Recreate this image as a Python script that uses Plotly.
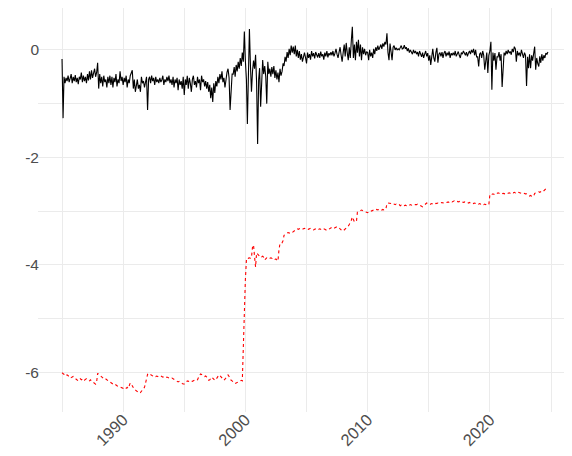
import pandas as pd
import plotly.graph_objects as go

# ---- Data (monthly, Jan 1985 - Oct 2024) ----
black_values = [
    # 1985
    -0.17, -1.27, -0.50, -0.62, -0.52, -0.58, -0.48, -0.60, -0.53, -0.45, -0.62, -0.50,
    # 1986
    -0.58, -0.47, -0.60, -0.52, -0.64, -0.50, -0.55, -0.42, -0.60, -0.48, -0.58, -0.50,
    # 1987
    -0.62, -0.45, -0.57, -0.40, -0.55, -0.38, -0.52, -0.45, -0.35, -0.50, -0.42, -0.24,
    # 1988
    -0.72, -0.45, -0.62, -0.50, -0.68, -0.48, -0.60, -0.55, -0.70, -0.50, -0.62, -0.48,
    # 1989
    -0.65, -0.50, -0.70, -0.52, -0.60, -0.45, -0.68, -0.55, -0.62, -0.40, -0.58, -0.50,
    # 1990
    -0.65, -0.52, -0.60, -0.48, -0.70, -0.55, -0.62, -0.48, -0.40, -0.38, -0.72, -0.55,
    # 1991
    -0.78, -0.60, -0.55, -0.72, -0.65, -0.78, -0.50, -0.62, -0.58, -0.70, -0.55, -0.50,
    # 1992
    -1.12, -0.55, -0.50, -0.62, -0.48, -0.58, -0.52, -0.65, -0.50, -0.60, -0.55, -0.62,
    # 1993
    -0.52, -0.60, -0.56, -0.48, -0.65, -0.55, -0.60, -0.50, -0.58, -0.48, -0.62, -0.55,
    # 1994
    -0.65, -0.50, -0.70, -0.55, -0.62, -0.52, -0.75, -0.55, -0.65, -0.58, -0.72, -0.50,
    # 1995
    -0.84, -0.55, -0.65, -0.48, -0.72, -0.52, -0.62, -0.78, -0.55, -0.48, -0.65, -0.58,
    # 1996
    -0.70, -0.50, -0.62, -0.55, -0.75, -0.48, -0.60, -0.55, -0.68, -0.58, -0.72, -0.60,
    # 1997
    -0.78, -0.65, -0.90, -0.70, -0.97, -0.62, -0.80, -0.58, -0.68, -0.50, -0.62, -0.45,
    # 1998
    -0.55, -0.40, -0.60, -0.52, -0.70, -0.48, -0.42, -0.35, -0.52, -1.12, -0.60, -0.45,
    # 1999
    -0.45, -0.32, -0.50, -0.28, -0.40, -0.22, -0.35, -0.15, -0.30, -0.05, -0.22, 0.34,
    # 2000
    -0.20, -0.55, -1.38, -0.30, 0.39, -0.30, -0.78, -0.40, -0.20, -0.35, -0.09, -0.60,
    # 2001
    -1.75, -0.55, -0.34, -1.06, -0.40, -0.19, -0.45, -0.30, -0.50, -1.00, -0.22, -0.45,
    # 2002
    -0.35, -0.50, -0.32, -0.45, -0.30, -0.52, -0.38, -0.55, -0.42, -0.60, -0.35, -0.48,
    # 2003
    -0.40, -0.25, -0.30, -0.13, -0.22, -0.04, -0.15, 0.02, -0.10, 0.08, -0.05, 0.06,
    # 2004
    -0.08, 0.08, -0.12, 0.00, -0.15, -0.02, -0.18, -0.08, -0.22, -0.10, -0.05, -0.14,
    # 2005
    -0.25, -0.05, -0.15, -0.08, -0.18, -0.02, -0.12, -0.06, -0.16, -0.04, -0.10, -0.14,
    # 2006
    -0.06, -0.15, -0.03, -0.12, -0.08, -0.18, -0.05, -0.12, -0.02, -0.14, -0.06, -0.10,
    # 2007
    -0.04, -0.10, -0.02, -0.12, -0.06, 0.02, -0.08, -0.15, -0.04, 0.05, -0.10, -0.22,
    # 2008
    -0.05, 0.10, -0.12, 0.13, -0.05, -0.19, 0.05, -0.15, 0.18, 0.43, -0.15, 0.10,
    # 2009
    -0.19, 0.15, -0.05, 0.19, -0.12, 0.10, -0.19, 0.05, -0.08, 0.02, -0.10, -0.03,
    # 2010
    -0.05, -0.19, 0.00, -0.12, -0.05, -0.15, 0.02, -0.08, 0.05, -0.02, 0.08, 0.00,
    # 2011
    0.05, 0.10, 0.02, 0.12, 0.06, 0.15, 0.10, 0.31, -0.05, -0.19, 0.12, -0.02,
    # 2012
    -0.19, 0.05, 0.08, 0.00, 0.04, 0.00, 0.02, 0.00, 0.05, 0.08, 0.02, 0.03,
    # 2013
    0.09, 0.02, 0.05, -0.02, 0.03, -0.05, 0.00, -0.03, -0.08, 0.00, -0.06, -0.02,
    # 2014
    -0.08, -0.04, -0.12, -0.02, -0.10, -0.13, -0.05, -0.15, -0.08, -0.02, -0.12, -0.06,
    # 2015
    -0.20, -0.10, -0.28, -0.05, 0.02, -0.15, -0.22, -0.05, 0.04, -0.24, -0.08, -0.05,
    # 2016
    -0.12, -0.04, -0.15, -0.06, -0.02, -0.12, -0.05, -0.10, -0.03, -0.15, -0.06, -0.10,
    # 2017
    -0.05, -0.10, -0.02, -0.12, -0.06, -0.03, -0.10, -0.15, -0.05, -0.08, -0.02, -0.06,
    # 2018
    -0.10, -0.04, -0.12, -0.06, -0.02, -0.08, 0.00, -0.05, 0.02, -0.10, 0.00, -0.13,
    # 2019
    -0.13, -0.31, -0.08, -0.05, -0.15, -0.02, -0.10, -0.37, -0.13, -0.05, -0.43, -0.10,
    # 2020
    -0.02, 0.15, -0.74, -0.05, -0.20, -0.06, -0.37, -0.13, -0.13, -0.04, -0.20, -0.08,
    # 2021
    -0.69, -0.18, -0.05, -0.10, -0.02, -0.08, 0.00, -0.06, -0.03, -0.09, 0.02, -0.04,
    # 2022
    0.06, 0.02, -0.22, -0.02, -0.10, -0.05, -0.12, 0.00, -0.08, -0.15, -0.05, -0.10,
    # 2023
    -0.67, -0.13, -0.34, -0.08, -0.34, -0.10, -0.20, -0.05, 0.06, -0.37, -0.15, -0.25,
    # 2024 (Jan-Oct)
    -0.31, -0.12, -0.24, -0.08, -0.20, -0.10, -0.15, -0.06, -0.08, -0.04,
]

red_values = [
    # 1985
    -6.01, -6.03, -6.04, -6.03, -6.06, -6.05, -6.07, -6.08, -6.07, -6.10, -6.09, -6.08,
    # 1986
    -6.10, -6.12, -6.14, -6.15, -6.16, -6.13, -6.12, -6.14, -6.13, -6.12, -6.15, -6.14,
    # 1987
    -6.12, -6.13, -6.15, -6.16, -6.14, -6.17, -6.18, -6.19, -6.20, -6.22, -6.18, -6.02,
    # 1988
    -6.04, -6.06, -6.07, -6.09, -6.10, -6.12, -6.11, -6.13, -6.14, -6.16, -6.17, -6.18,
    # 1989
    -6.19, -6.20, -6.22, -6.21, -6.23, -6.24, -6.25, -6.26, -6.27, -6.28, -6.29, -6.30,
    # 1990
    -6.30, -6.29, -6.31, -6.30, -6.28, -6.30, -6.25, -6.20, -6.22, -6.26, -6.30, -6.32,
    # 1991
    -6.33, -6.35, -6.36, -6.38, -6.39, -6.38, -6.36, -6.34, -6.30, -6.28, -6.20, -6.09,
    # 1992
    -6.04, -6.02, -6.03, -6.05, -6.06, -6.07, -6.08, -6.07, -6.08, -6.07, -6.08, -6.09,
    # 1993
    -6.08, -6.07, -6.08, -6.09, -6.08, -6.09, -6.10, -6.09, -6.10, -6.11, -6.11, -6.12,
    # 1994
    -6.11, -6.12, -6.13, -6.14, -6.15, -6.16, -6.18, -6.17, -6.19, -6.20, -6.21, -6.22,
    # 1995
    -6.22, -6.20, -6.18, -6.16, -6.17, -6.16, -6.15, -6.16, -6.17, -6.16, -6.15, -6.16,
    # 1996
    -6.15, -6.14, -6.10, -6.05, -6.03, -6.04, -6.06, -6.07, -6.08, -6.07, -6.09, -6.12,
    # 1997
    -6.15, -6.14, -6.10, -6.09, -6.11, -6.13, -6.15, -6.14, -6.10, -6.07, -6.05, -6.06,
    # 1998
    -6.08, -6.10, -6.12, -6.15, -6.13, -6.10, -6.06, -6.05, -6.08, -6.12, -6.15, -6.16,
    # 1999
    -6.18, -6.20, -6.21, -6.20, -6.19, -6.18, -6.17, -6.16, -6.15, -6.16, -5.40, -4.84,
    # 2000
    -4.28, -3.91, -3.87, -3.88, -3.87, -3.88, -3.86, -3.67, -3.63, -3.85, -4.04, -3.78,
    # 2001
    -3.80, -3.82, -3.84, -3.83, -3.85, -3.84, -3.86, -3.91, -3.88, -3.87, -3.88, -3.87,
    # 2002
    -3.88, -3.87, -3.88, -3.89, -3.88, -3.90, -3.89, -3.91, -3.93, -3.72, -3.60, -3.60,
    # 2003
    -3.59, -3.55, -3.45, -3.44, -3.42, -3.41, -3.40, -3.41, -3.40, -3.41, -3.40, -3.38,
    # 2004
    -3.36, -3.35, -3.34, -3.33, -3.34, -3.33, -3.32, -3.33, -3.34, -3.33, -3.32, -3.33,
    # 2005
    -3.32, -3.33, -3.34, -3.33, -3.32, -3.33, -3.34, -3.35, -3.34, -3.33, -3.32, -3.33,
    # 2006
    -3.34, -3.33, -3.34, -3.35, -3.34, -3.33, -3.34, -3.35, -3.36, -3.35, -3.34, -3.33,
    # 2007
    -3.31, -3.30, -3.31, -3.32, -3.31, -3.30, -3.29, -3.30, -3.31, -3.33, -3.35, -3.37,
    # 2008
    -3.37, -3.35, -3.33, -3.32, -3.31, -3.28, -3.25, -3.22, -3.17, -3.11, -3.18, -3.20,
    # 2009
    -3.20, -3.19, -3.02, -3.01, -3.00, -2.99, -2.98, -2.99, -3.00, -3.01, -3.02, -3.03,
    # 2010
    -3.03, -3.01, -3.00, -2.99, -3.00, -2.99, -2.98, -2.99, -2.98, -2.97, -2.98, -2.97,
    # 2011
    -2.98, -2.97, -2.98, -2.97, -2.98, -2.98, -2.96, -2.86, -2.85, -2.85, -2.86, -2.86,
    # 2012
    -2.87, -2.86, -2.87, -2.88, -2.87, -2.88, -2.89, -2.88, -2.90, -2.89, -2.90, -2.89,
    # 2013
    -2.90, -2.89, -2.90, -2.89, -2.90, -2.89, -2.88, -2.89, -2.88, -2.89, -2.88, -2.88,
    # 2014
    -2.88, -2.87, -2.88, -2.89, -2.90, -2.91, -2.92, -2.90, -2.88, -2.86, -2.85, -2.86,
    # 2015
    -2.87, -2.88, -2.87, -2.86, -2.87, -2.86, -2.85, -2.86, -2.85, -2.85, -2.86, -2.85,
    # 2016
    -2.85, -2.84, -2.85, -2.84, -2.84, -2.83, -2.84, -2.83, -2.84, -2.83, -2.82, -2.83,
    # 2017
    -2.82, -2.81, -2.82, -2.83, -2.82, -2.83, -2.82, -2.83, -2.84, -2.83, -2.84, -2.83,
    # 2018
    -2.84, -2.83, -2.84, -2.85, -2.84, -2.85, -2.84, -2.85, -2.86, -2.85, -2.86, -2.87,
    # 2019
    -2.86, -2.87, -2.86, -2.87, -2.86, -2.87, -2.88, -2.87, -2.88, -2.87, -2.88, -2.88,
    # 2020
    -2.70, -2.68, -2.69, -2.68, -2.69, -2.67, -2.68, -2.67, -2.66, -2.67, -2.68, -2.67,
    # 2021
    -2.68, -2.67, -2.68, -2.68, -2.67, -2.68, -2.67, -2.66, -2.67, -2.66, -2.65, -2.66,
    # 2022
    -2.65, -2.66, -2.65, -2.64, -2.65, -2.66, -2.66, -2.67, -2.66, -2.67, -2.68, -2.68,
    # 2023
    -2.68, -2.69, -2.70, -2.72, -2.71, -2.72, -2.71, -2.72, -2.67, -2.66, -2.65, -2.64,
    # 2024 (Jan-Oct)
    -2.64, -2.65, -2.64, -2.63, -2.64, -2.62, -2.61, -2.60, -2.58, -2.55,
]

start_month = "1985-01-01"
x_tick_years = ["1990", "2000", "2010", "2020"]
x_minor_years = ["1985", "1995", "2005", "2015", "2025"]
y_tick_values = [0, -2, -4, -6]
y_tick_labels = ["0", "-2", "-4", "-6"]
y_minor_values = [-1, -3, -5]

dates = pd.date_range(start_month, periods=len(black_values), freq="MS")
red_dates = pd.date_range(start_month, periods=len(red_values), freq="MS")

GRID = "#EBEBEB"
TEXT = "#4D4D4D"

fig = go.Figure()
fig.add_trace(go.Scatter(x=dates, y=black_values, mode="lines",
                         line=dict(color="black", width=1.1), showlegend=False))
fig.add_trace(go.Scatter(x=red_dates, y=red_values, mode="lines",
                         line=dict(color="red", width=1.1, dash="dot"), showlegend=False))

# The page body adds an 8px offset, so the figure is sized 564x448.
fig.update_layout(
    width=564, height=448,
    margin=dict(l=30, r=0, t=0, b=44, autoexpand=False),
    paper_bgcolor="white", plot_bgcolor="white",
    font=dict(family="Liberation Sans, Arial, sans-serif", color=TEXT, size=16),
    xaxis=dict(
        type="date",
        automargin=False,
        range=["1983-01-14", "2026-09-20"],
        tickvals=[f"{y}-01-01" for y in x_tick_years],
        ticktext=x_tick_years,
        tickangle=-45,
        ticklabelstandoff=-6,
        showgrid=True, gridcolor=GRID, gridwidth=1.1,
        zeroline=False, showline=False, ticks="",
        tickfont=dict(size=16.5, color=TEXT),
        minor=dict(tickvals=[f"{y}-01-01" for y in x_minor_years],
                   showgrid=True, gridcolor=GRID, gridwidth=0.6, ticks=""),
    ),
    yaxis=dict(
        automargin=False,
        range=[-6.74, 0.78],
        tickvals=y_tick_values,
        ticktext=y_tick_labels,
        ticklabelstandoff=-2,
        showgrid=True, gridcolor=GRID, gridwidth=1.1,
        zeroline=False, showline=False, ticks="",
        tickfont=dict(size=15.5, color=TEXT),
        minor=dict(tickvals=y_minor_values, showgrid=True, gridcolor=GRID,
                   gridwidth=0.6, ticks=""),
    ),
)

fig.write_html("out.html")
